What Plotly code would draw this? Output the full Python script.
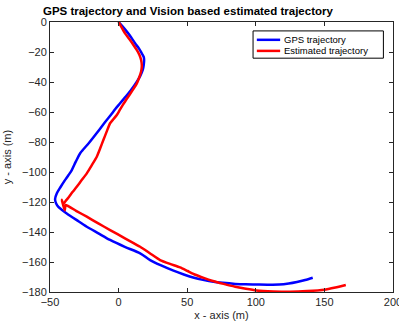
import plotly.graph_objects as go

# GPS trajectory (metres)
gps_x = [0.0, 3.0, 6.0, 9.2, 12.0, 14.8, 16.9, 18.3, 18.6, 18.3, 17.6, 15.8, 13.3, 10.4, 7.2,
         4.1, 1.1, -2.4, -5.7, -10.5, -15.9, -21.5, -28.0, -31.2, -34.1, -36.6,
         -39.2, -42.3, -45.0, -46.3, -45.6, -43.9, -41.2, -37.8, -30.5, -23.2, -14.7, -6.2,
         4.5, 15.7, 23.0, 31.0, 40.0, 47.5, 55.0, 61.5, 68.0, 76.0, 85.0, 92.5, 100.0, 108.5,
         117.0, 124.0, 130.0, 136.0, 141.5]
gps_y = [0.0, -3.1, -6.4, -10.3, -14.2, -17.6, -20.9, -23.2, -25.3, -28.7, -32.0, -35.9,
         -39.8, -43.7, -47.6, -50.9, -54.2, -58.0, -62.0, -67.5, -74.0, -80.5, -87.5, -93.1,
         -98.7, -102.2, -105.6, -110.0, -114.2, -118.0, -120.9, -123.3, -125.3,
         -127.6, -132.1, -136.5, -140.9, -145.3, -149.9, -154.2, -158.7, -162.3, -165.8,
         -168.3, -170.5, -171.9, -173.0, -173.9, -174.6, -174.9, -175.0, -175.1, -175.0,
         -174.3, -173.3, -172.0, -170.5]

# Vision-based estimated trajectory (metres)
est_x = [0.0, 2.3, 4.7, 7.8, 10.8, 13.2, 15.2, 16.4, 16.9, 16.8, 16.4, 15.0, 13.3, 10.7, 7.9,
         5.4, 3.1, 0.9, -1.3, -3.7, -6.2, -8.7, -11.1, -13.4, -15.9, -19.5, -23.2, -26.9,
         -30.5, -33.6, -36.5, -38.6, -40.2, -41.5, -40.3, -39.2, -38.6, -31.0, -23.2, -14.8,
         -6.2, 4.6, 15.7, 23.0, 30.2, 37.5, 44.8, 50.3, 56.0, 62.0, 68.0, 76.5, 85.0, 92.8,
         100.7, 112.8, 125.0, 137.5, 150.0, 158.0, 165.6]
est_y = [0.0, -3.8, -7.6, -11.4, -15.3, -18.6, -22.0, -25.3, -28.7, -30.8, -33.0, -37.0,
         -40.9, -44.8, -48.7, -52.0, -55.3, -58.6, -62.0, -64.7, -67.5, -73.1, -78.7, -84.2,
         -89.8, -95.4, -100.9, -105.4, -109.8, -113.4, -117.0, -119.3, -121.3, -118.6, -122.5,
         -125.5, -122.0, -125.9, -129.8, -134.3, -138.7, -144.2, -149.8, -154.3, -158.7,
         -161.3, -163.6, -166.0, -168.5, -170.6, -172.5, -174.6, -176.5, -177.9, -179.0,
         -179.6, -179.8, -179.4, -178.5, -177.0, -175.3]

x_ticks = [-50, 0, 50, 100, 150, 200]
y_ticks = [0, -20, -40, -60, -80, -100, -120, -140, -160, -180]

font_family = "Liberation Sans, Arial, sans-serif"
axis_color = "#262626"
gps_color = "#0000ff"
est_color = "#ff0000"

fig = go.Figure()
fig.add_trace(go.Scatter(x=gps_x, y=gps_y, mode="lines", name="GPS trajectory",
                         line=dict(color=gps_color, width=2.5, shape="spline", smoothing=0.8)))
fig.add_trace(go.Scatter(x=est_x, y=est_y, mode="lines", name="Estimated trajectory",
                         line=dict(color=est_color, width=2.5, shape="spline", smoothing=0.5)))

axis_common = dict(
    showgrid=False, zeroline=False, showline=True, linecolor=axis_color, linewidth=1,
    mirror="allticks", ticks="inside", ticklen=4, tickcolor=axis_color,
    tickfont=dict(family=font_family, size=11, color=axis_color),
    ticklabeloverflow="allow", automargin=False,
)

# Compact boxed legend (north-east corner of the axes)
legend_box = dict(x0=0.592, x1=0.972, y0=0.866, y1=0.967)
legend_rows = [("GPS trajectory", gps_color, 0.934), ("Estimated trajectory", est_color, 0.893)]
shapes = [dict(type="rect", xref="paper", yref="paper", line=dict(color="black", width=1),
               fillcolor="white", layer="above", **legend_box)]
annotations = []
for label, color, ypos in legend_rows:
    shapes.append(dict(type="line", xref="paper", yref="paper", x0=0.603, x1=0.671,
                       y0=ypos, y1=ypos, line=dict(color=color, width=2.5), layer="above"))
    annotations.append(dict(text=label, xref="paper", yref="paper", x=0.676, y=ypos,
                            xanchor="left", yanchor="middle", showarrow=False,
                            font=dict(family=font_family, size=9.5, color="black")))

fig.update_layout(
    width=399, height=327,
    margin=dict(l=50, r=6, t=22, b=35, autoexpand=False),
    paper_bgcolor="white", plot_bgcolor="white",
    font=dict(family=font_family, color=axis_color),
    title=dict(text="<b>GPS trajectory and Vision based estimated trajectory</b>",
               x=0.471, xanchor="center", xref="container", y=0.965, yanchor="middle",
               yref="container", font=dict(family=font_family, size=11.5, color="black")),
    xaxis=dict(range=[-50, 200.001], tickvals=x_ticks,
               title=dict(text="x - axis (m)", font=dict(size=11, color=axis_color), standoff=4),
               **axis_common),
    yaxis=dict(range=[-180.001, 0.001], tickvals=y_ticks,
               title=dict(text="y - axis (m)", font=dict(size=11, color=axis_color), standoff=8),
               **axis_common),
    shapes=shapes,
    annotations=annotations,
    showlegend=False,
)

fig.write_html("out.html")
